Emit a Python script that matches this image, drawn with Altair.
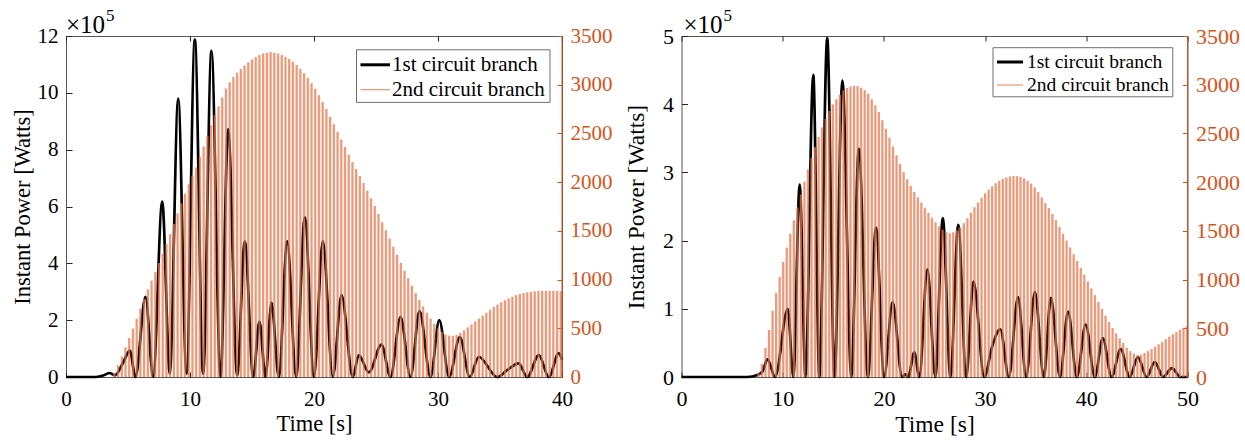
import altair as alt
import numpy as np
import pandas as pd

FONT = "Liberation Serif"
ORANGE_LINE = "#E8764A"
ORANGE_AXIS = "#D95319"
AXIS_GRAY = "#262626"

# ---------------- data ----------------
# Left panel, 1st circuit branch: time [s], power [x1e5 W]
LEFT_T = [0, 2.4, 3.0, 3.5, 3.95, 4.6, 5.15, 5.6, 6.41, 7.03, 7.76, 8.37, 9.05, 9.72,
          10.39, 11.06, 11.73, 12.46, 13.08, 13.8, 14.42, 15.1, 15.6, 16.09, 16.57,
          17.16, 17.84, 18.56, 19.26, 20.0, 20.71, 21.52, 22.22, 23.13, 23.61, 24.42,
          25.44, 26.17, 26.98, 27.78, 28.51, 29.4, 30.1, 30.9, 31.76, 32.56, 33.29,
          34.77, 35.6, 36.5, 37.2, 38.13, 38.94, 39.74, 40.0]
LEFT_P = [0, 0, 0.05, 0.14, 0.06, 0.5, 0.93, 0, 2.82, 0, 6.17, 0.12, 9.8, 0.12,
          11.87, 0.12, 11.48, 0, 8.72, 0.05, 4.77, 0, 1.95, 0, 2.62,
          0, 4.77, 0, 5.62, 0, 4.78, 0, 2.88, 0, 0.77, 0.16,
          1.14, 0, 2.12, 0, 2.32, 0, 2.0, 0, 1.4, 0, 0.71,
          0, 0.25, 0.48, 0, 0.77, 0, 0.84, 0.6]
# Left panel, 2nd circuit branch: spike peaks [W], first spike time and spacing [s]
LEFT_SPIKE_T0 = 3.9
LEFT_SPIKE_DT = 0.3
LEFT_SPIKES = [40, 120, 210, 306, 402, 498, 598, 700, 802, 900,
               990, 1080, 1170, 1266, 1364, 1466, 1572, 1680, 1782, 1882,
               1978, 2066, 2150, 2258, 2366, 2474, 2582, 2690, 2780, 2870,
               2960, 3026, 3080, 3122, 3162, 3198, 3230, 3260, 3284, 3305,
               3320, 3329, 3335, 3329, 3320, 3305, 3286, 3265, 3235, 3202,
               3163, 3118, 3070, 3016, 2958, 2892, 2822, 2750, 2672, 2594,
               2516, 2438, 2360, 2282, 2206, 2134, 2062, 1990, 1912, 1834,
               1756, 1674, 1590, 1506, 1422, 1338, 1254, 1170, 1092, 1014,
               936, 862, 790, 724, 660, 600, 548, 500, 464, 436,
               424, 424, 430, 454, 480, 510, 540, 570, 600, 630,
               660, 690, 720, 744, 767, 788, 807, 825, 840, 853,
               862, 869, 875, 879, 883, 884, 885, 885, 884, 882,
               881]

# Right panel, 1st circuit branch
RIGHT_T = [0, 6.5, 7.5, 8.0, 8.5, 9.25, 10.5, 11.05, 11.68, 12.25, 13.02, 13.62, 14.4,
           15.12, 15.9, 16.78, 17.52, 18.42, 19.22, 20.02, 20.86, 21.8, 22.1, 22.4,
           23.0, 23.5, 24.3, 25.08, 25.82, 26.57, 27.35, 28.13, 28.85, 29.92, 30.7,
           31.5, 32.35, 33.25, 34.06, 34.92, 35.8, 36.5, 37.4, 38.2, 39.07, 39.94,
           40.84, 41.63, 42.5, 43.4, 44.28, 45.1, 45.97, 46.76, 47.6, 48.46, 49.3, 50.0]
RIGHT_P = [0, 0, 0.03, 0.08, 0.26, 0, 1.0, 0, 2.82, 0, 4.43, 0, 4.97,
           0, 4.35, 0, 3.35, 0, 2.19, 0, 1.1, 0, 0.04, 0,
           0.36, 0, 1.58, 0, 2.33, 0, 2.23, 0, 1.4, 0, 0.45,
           0.7, 0, 1.17, 0, 1.25, 0, 1.16, 0, 0.96, 0, 0.77,
           0, 0.57, 0, 0.41, 0, 0.29, 0, 0.22, 0, 0.13, 0, 0]
RIGHT_SPIKE_T0 = 7.6
RIGHT_SPIKE_DT = 0.35
RIGHT_SPIKES = [40, 135, 300, 484, 680, 862, 1028, 1181, 1328, 1470,
                1608, 1741, 1874, 2004, 2130, 2249, 2360, 2464, 2562, 2650,
                2730, 2800, 2852, 2898, 2940, 2965, 2981, 2990, 2986, 2970,
                2944, 2906, 2852, 2790, 2720, 2636, 2548, 2457, 2366, 2275,
                2186, 2102, 2030, 1963, 1900, 1844, 1790, 1738, 1685, 1635,
                1588, 1546, 1513, 1489, 1475, 1485, 1506, 1536, 1578, 1630,
                1686, 1742, 1792, 1840, 1885, 1924, 1958, 1989, 2013, 2033,
                2048, 2059, 2063, 2062, 2055, 2038, 2014, 1985, 1946, 1898,
                1843, 1784, 1734, 1673, 1610, 1540, 1470, 1400, 1330, 1260,
                1190, 1120, 1050, 980, 910, 840, 770, 700, 630, 565,
                504, 448, 398, 349, 300, 265, 240, 225, 229, 247,
                266, 287, 311, 336, 360, 388, 414, 439, 463, 485,
                505, 523]

LEFT_X_TICKS = [0, 10, 20, 30, 40]
RIGHT_X_TICKS = [0, 10, 20, 30, 40, 50]
LEFT_Y_TICKS = [0, 2, 4, 6, 8, 10, 12]
RIGHT_Y_TICKS = [0, 1, 2, 3, 4, 5]
Y2_TICKS = [0, 500, 1000, 1500, 2000, 2500, 3000, 3500]
LEGEND_LABELS = ["1st circuit branch", "2nd circuit branch"]
X_TITLE = "Time [s]"
Y_TITLE = "Instant Power [Watts]"
EXP_BASE = "\u00d710"
EXP_POWER = "5"

H = 341
ONE = pd.DataFrame({"a": [0]})


def panel(t, p, spikes, t0, dt, xmax, ymax, xticks, yticks, W, fonts, leg, anchor):
    df_b = pd.DataFrame({"t": t, "p": p})
    n = len(spikes)
    df_o = pd.DataFrame({"t": t0 + dt * np.arange(n), "q": spikes, "q0": np.zeros(n)})
    xs = alt.Scale(domain=[0, xmax], nice=False, zero=False)

    black = alt.Chart(df_b).mark_line(color="black", strokeWidth=2.7, interpolate="monotone").encode(
        x=alt.X("t:Q", scale=xs, axis=alt.Axis(
            orient="bottom", values=xticks, format="d", title=X_TITLE, domain=False,
            offset=-5, tickSize=5, tickColor=AXIS_GRAY, labelFont=FONT,
            labelFontSize=fonts["tick"], labelColor="black", labelPadding=11,
            labelFlush=False, labelOverlap=False, titleFont=FONT,
            titleFontSize=fonts["title"], titleFontWeight="normal", titleColor="black",
            titlePadding=3, grid=False)),
        y=alt.Y("p:Q", scale=alt.Scale(domain=[0, ymax], nice=False), axis=alt.Axis(
            orient="left", values=yticks, format="d", title=Y_TITLE, domain=False,
            offset=-6, tickSize=6, tickColor=AXIS_GRAY, labelFont=FONT,
            labelFontSize=fonts["tick"], labelColor="black", labelPadding=8,
            labelFlush=False, labelOverlap=False, titleFont=FONT,
            titleFontSize=fonts["title"], titleFontWeight="normal", titleColor="black",
            titlePadding=fonts["ytp"], grid=False)),
    )
    orange = alt.Chart(df_o).mark_rule(color=ORANGE_LINE, strokeWidth=2.3, opacity=0.74).encode(
        x=alt.X("t:Q", scale=xs, axis=alt.Axis(
            orient="top", values=xticks, labels=False, domain=False, offset=-5,
            tickSize=5, tickColor=AXIS_GRAY, title=None, grid=False)),
        y=alt.Y("q:Q", scale=alt.Scale(domain=[0, 3500], nice=False), axis=alt.Axis(
            orient="right", values=Y2_TICKS, format="d", title=None, domain=False,
            offset=-5, tickSize=5, tickColor=ORANGE_AXIS, labelColor=ORANGE_AXIS,
            labelFont=FONT, labelFontSize=fonts["tick"], labelPadding=8,
            labelFlush=False, labelOverlap=False, grid=False)),
        y2="q0:Q",
    )
    right_border = alt.Chart(ONE).mark_rule(color=ORANGE_AXIS, strokeWidth=1).encode(
        x=alt.value(W), y=alt.value(0), y2=alt.value(H))

    box = alt.Chart(ONE).mark_rect(fill="white", stroke="#6e6e6e", strokeWidth=1).encode(
        x=alt.value(leg["x1"]), x2=alt.value(leg["x2"]),
        y=alt.value(leg["y1"]), y2=alt.value(leg["y2"]))
    sym1 = alt.Chart(ONE).mark_rule(color="black", strokeWidth=3).encode(
        x=alt.value(leg["s1"]), x2=alt.value(leg["s2"]), y=alt.value(leg["r1"]))
    sym2 = alt.Chart(ONE).mark_rule(color="#EE9672", strokeWidth=1.2).encode(
        x=alt.value(leg["s1"]), x2=alt.value(leg["s2"]), y=alt.value(leg["r2"]))
    txt1 = alt.Chart(ONE).mark_text(font=FONT, fontSize=fonts["legend"], align="left",
                                    baseline="middle", color="black").encode(
        x=alt.value(leg["tx"]), y=alt.value(leg["r1"]), text=alt.value(LEGEND_LABELS[0]))
    txt2 = alt.Chart(ONE).mark_text(font=FONT, fontSize=fonts["legend"], align="left",
                                    baseline="middle", color="black").encode(
        x=alt.value(leg["tx"]), y=alt.value(leg["r2"]), text=alt.value(LEGEND_LABELS[1]))
    exp1 = alt.Chart(ONE).mark_text(font=FONT, fontSize=25, align="left",
                                    baseline="alphabetic", color="black").encode(
        x=alt.value(leg["ex"]), y=alt.value(-3), text=alt.value(EXP_BASE))
    exp2 = alt.Chart(ONE).mark_text(font=FONT, fontSize=17, align="left",
                                    baseline="alphabetic", color="black").encode(
        x=alt.value(leg["ex"] + 40), y=alt.value(-15), text=alt.value(EXP_POWER))

    layers = [black, orange, right_border, box, sym1, sym2, txt1, txt2, exp1, exp2]
    if anchor:
        layers.append(alt.Chart(ONE).mark_rule(color="white", strokeWidth=1, strokeOpacity=0).encode(
            x=alt.value(-65), x2=alt.value(-65), y=alt.value(-35), y2=alt.value(-35)))
    return alt.layer(*layers).resolve_scale(y="independent").resolve_axis(
        x="independent", y="independent").properties(width=W, height=H)


left = panel(LEFT_T, LEFT_P, LEFT_SPIKES, LEFT_SPIKE_T0, LEFT_SPIKE_DT, 40, 12,
             LEFT_X_TICKS, LEFT_Y_TICKS, 496,
             {"tick": 21, "title": 22.5, "legend": 21, "ytp": 3},
             {"x1": 290.5, "x2": 484, "y1": 13.8, "y2": 66.4, "s1": 294.5, "s2": 324,
              "tx": 326, "r1": 28.8, "r2": 53.7, "ex": 0}, True)
right = panel(RIGHT_T, RIGHT_P, RIGHT_SPIKES, RIGHT_SPIKE_T0, RIGHT_SPIKE_DT, 50, 5,
              RIGHT_X_TICKS, RIGHT_Y_TICKS, 506,
              {"tick": 22, "title": 23.5, "legend": 19.5, "ytp": 14},
              {"x1": 311.5, "x2": 491.3, "y1": 11.7, "y2": 60.8, "s1": 315.5, "s2": 341.5,
               "tx": 345.5, "r1": 26, "r2": 49, "ex": 2}, False)

chart = alt.hconcat(left, right, spacing=119.5, bounds="flush").configure_view(
    stroke="#555555", strokeWidth=1).configure_axis(
    labelFont=FONT, titleFont=FONT).configure_text(font=FONT).properties(
    padding={"left": 0, "top": 0, "right": 0, "bottom": 0}, background="white")

chart.save("out.html", embed_options={"renderer": "svg", "actions": False})
